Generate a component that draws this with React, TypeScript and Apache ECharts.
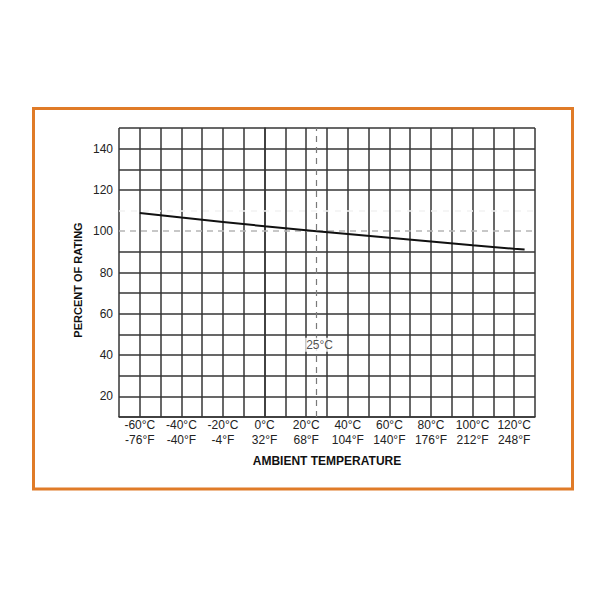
import React, { useEffect, useRef } from "react";
import * as echarts from "echarts";

// Temperature (°C) and derating (% of rating)
const tempC = [-60, -40, -20, 0, 20, 25, 40, 60, 80, 100, 120, 125];
const percentRating = [108.8, 106.6, 104.5, 102.4, 100.5, 100, 98.7, 96.8, 95.0, 93.2, 91.5, 91.1];

// Axis tick labels
const xTickC = [-60, -40, -20, 0, 20, 40, 60, 80, 100, 120];
const xTickF = [-76, -40, -4, 32, 68, 104, 140, 176, 212, 248];
const yTicks = [20, 40, 60, 80, 100, 120, 140];

// Reference markers
const refTempC = 25;
const refTempLabel = "25°C";
const refTempLabelY = 45;
const ratedPercent = 100;
const hiddenLine = 110;

const xName = "AMBIENT TEMPERATURE";
const yName = "PERCENT OF RATING";

export default function App() {
  const ref = useRef<HTMLDivElement>(null);
  useEffect(() => {
    if (!ref.current) return;
    const chart = echarts.init(ref.current, undefined, { renderer: "svg" });
    const gridColor = "#363636";
    const yMin = 10, yMax = 150, yInt = 10;
    const splitColors: string[] = [];
    for (let v = yMin; v <= yMax; v += yInt) {
      splitColors.push(v === ratedPercent || v === hiddenLine ? "transparent" : gridColor);
    }
    const font = "'Liberation Sans', Arial, Helvetica, sans-serif";
    chart.setOption({
      animation: false,
      backgroundColor: "#ffffff",
      textStyle: { fontFamily: font },
      grid: { left: 119, top: 128, width: 416, height: 289, containLabel: false },
      xAxis: {
        type: "value",
        min: -70,
        max: 130,
        interval: 10,
        axisLine: { show: true, lineStyle: { color: gridColor, width: 1.5 } },
        axisTick: { show: false },
        splitLine: { show: true, lineStyle: { color: gridColor, width: 1.5 } },
        axisLabel: {
          margin: 0,
          fontSize: 12,
          lineHeight: 15,
          color: "#222",
          fontFamily: font,
          showMinLabel: true,
          showMaxLabel: true,
          formatter: (v: number) => {
            const i = xTickC.indexOf(v);
            return i < 0 ? "" : `${v}°C\n${xTickF[i]}°F`;
          },
        },
      },
      yAxis: {
        type: "value",
        min: yMin,
        max: yMax,
        interval: yInt,
        axisLine: { show: true, lineStyle: { color: gridColor, width: 1.5 } },
        axisTick: { show: false },
        splitLine: { show: true, lineStyle: { color: splitColors, width: 1.5 } },
        axisLabel: {
          margin: 6,
          fontSize: 12,
          color: "#222",
          fontFamily: font,
          formatter: (v: number) => (yTicks.indexOf(v) < 0 ? "" : String(v)),
        },
      },
      graphic: [
        {
          type: "rect",
          shape: { x: 33.5, y: 108.5, width: 539, height: 380.5 },
          style: { fill: "none", stroke: "#E07B28", lineWidth: 3 },
          z: 10,
        },
        {
          type: "text",
          x: 327,
          y: 461,
          style: {
            text: xName,
            font: `bold 12px ${font}`,
            fill: "#111",
            textAlign: "center",
            textVerticalAlign: "middle",
          },
        },
        {
          type: "text",
          x: 77.5,
          y: 280,
          rotation: Math.PI / 2,
          style: {
            text: yName,
            font: `bold 11px ${font}`,
            fill: "#111",
            textAlign: "center",
            textVerticalAlign: "middle",
          },
        },
      ],
      series: [
        {
          type: "line",
          data: tempC.map((t, i) => [t, percentRating[i]]),
          showSymbol: false,
          symbol: "none",
          lineStyle: { color: "#111", width: 2 },
          z: 5,
          markLine: {
            silent: true,
            symbol: "none",
            label: { show: false },
            data: [
              { yAxis: hiddenLine, lineStyle: { color: "#f2f2f2", width: 1.5, type: [6, 6] } },
              { yAxis: ratedPercent, lineStyle: { color: "#b5b5b5", width: 1.5, type: [6, 5] } },
              { xAxis: refTempC, lineStyle: { color: "#7a7a7a", width: 1.2, type: [6, 5] } },
            ],
          },
        },
        {
          type: "scatter",
          data: [[refTempC, refTempLabelY]],
          symbolSize: 0,
          z: 6,
          label: {
            show: true,
            position: "inside",
            offset: [3, 0],
            formatter: refTempLabel,
            fontSize: 12,
            color: "#222",
            fontFamily: font,
            backgroundColor: "#fff",
            padding: [1, 1],
          },
        },
      ],
    });
    return () => chart.dispose();
  }, []);
  return (
    <div
      ref={ref}
      style={{ position: "fixed", left: 0, top: 0, width: 600, height: 600, background: "#fff" }}
    />
  );
}
